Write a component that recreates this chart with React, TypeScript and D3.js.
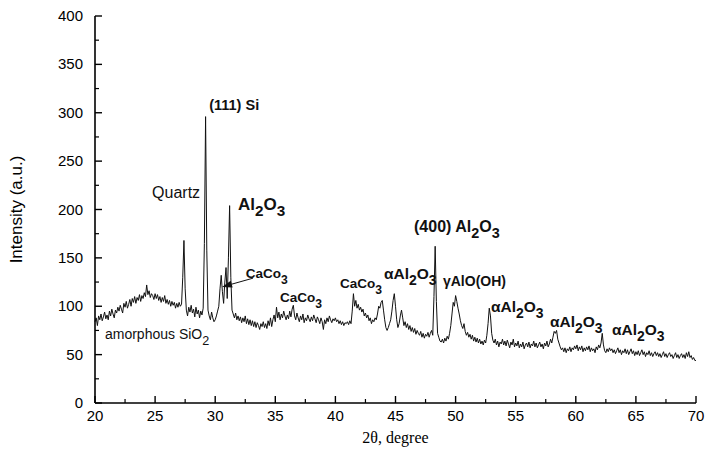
import React from "react";
import * as d3 from "d3";

const twoThetaStart = 20;
const twoThetaStep = 0.1;
const intensity = [
  84, 88, 80, 90, 86, 92, 85, 89, 94, 87, // 20
  91, 86, 95, 90, 97, 92, 88, 96, 93, 99, // 21
  95, 101, 97, 93, 103, 99, 105, 98, 102, 107, // 22
  100, 108, 104, 110, 103, 109, 106, 112, 105, 111, // 23
  108, 114, 110, 122, 112, 116, 109, 113, 111, 107, // 24
  113, 108, 112, 106, 110, 104, 109, 105, 111, 103, // 25
  107, 102, 106, 100, 105, 101, 104, 98, 103, 99, // 26
  104, 100, 102, 130, 168, 118, 96, 90, 99, 94, // 27
  101, 93, 97, 89, 99, 92, 96, 88, 95, 91, // 28
  98, 165, 296, 158, 96, 90, 86, 94, 88, 84, // 29
  86, 90, 95, 100, 118, 132, 115, 103, 125, 140, // 30
  108, 150, 204, 130, 96, 92, 88, 93, 86, 90, // 31
  85, 89, 83, 88, 84, 90, 82, 87, 81, 86, // 32
  80, 85, 79, 84, 78, 83, 80, 76, 82, 79, // 33
  84, 78, 82, 77, 85, 80, 88, 79, 86, 91, // 34
  84, 99, 88, 94, 86, 92, 88, 95, 90, 86, // 35
  91, 87, 95, 89, 97, 101, 90, 86, 93, 88, // 36
  84, 90, 86, 92, 83, 88, 85, 91, 87, 84, // 37
  89, 85, 91, 87, 83, 89, 86, 82, 88, 84, // 38
  76, 86, 82, 88, 84, 90, 86, 83, 87, 85, // 39
  88, 84, 86, 82, 85, 81, 84, 80, 83, 82, // 40
  84, 81, 85, 82, 95, 113, 100, 106, 98, 102, // 41
  96, 99, 94, 97, 90, 93, 88, 91, 85, 88, // 42
  82, 86, 84, 88, 86, 92, 100, 98, 104, 106, // 43
  96, 86, 78, 75, 78, 82, 86, 95, 106, 113, // 44
  100, 86, 78, 82, 90, 96, 88, 80, 84, 78, // 45
  82, 76, 80, 74, 78, 73, 77, 71, 75, 72, // 46
  70, 74, 68, 72, 67, 71, 69, 73, 68, 72, // 47
  75, 70, 110, 162, 105, 72, 68, 64, 63, 66, // 48
  62, 67, 64, 69, 66, 72, 80, 92, 104, 100, // 49
  111, 105, 98, 92, 85, 80, 77, 82, 74, 70, // 50
  73, 68, 71, 66, 70, 64, 68, 63, 67, 62, // 51
  66, 61, 64, 60, 65, 62, 70, 82, 98, 90, // 52
  72, 65, 62, 66, 60, 64, 58, 63, 61, 66, // 53
  60, 64, 59, 65, 61, 57, 63, 60, 66, 58, // 54
  62, 59, 64, 57, 61, 58, 63, 56, 60, 62, // 55
  58, 63, 57, 61, 59, 64, 58, 62, 57, 60, // 56
  63, 58, 61, 56, 62, 59, 64, 58, 61, 66, // 57
  62, 68, 74, 72, 75, 66, 62, 58, 55, 57, // 58
  53, 57, 52, 56, 54, 58, 53, 57, 55, 59, // 59
  56, 60, 54, 58, 55, 59, 53, 57, 54, 58, // 60
  55, 59, 53, 57, 54, 56, 52, 58, 55, 60, // 61
  57, 62, 72, 60, 54, 52, 56, 53, 57, 54, // 62
  56, 52, 55, 51, 54, 57, 52, 55, 50, 54, // 63
  52, 56, 51, 55, 50, 53, 56, 51, 54, 49, // 64
  53, 50, 54, 49, 52, 55, 50, 53, 48, 52, // 65
  50, 54, 49, 52, 48, 51, 53, 49, 52, 48, // 66
  51, 47, 50, 53, 48, 51, 47, 50, 52, 48, // 67
  50, 46, 49, 52, 47, 50, 46, 49, 51, 47, // 68
  50, 46, 52, 48, 53, 47, 49, 45, 47, 44, // 69
  44, // 70
];

const xTicks = [20, 25, 30, 35, 40, 45, 50, 55, 60, 65, 70];
const yTicks = [0, 50, 100, 150, 200, 250, 300, 350, 400];

// peak labels: [text, isSubscript] parts, anchored at (2theta, intensity)
const labels = [
  { at: [29.5, 303], size: 14.5, bold: true, parts: [["(111) Si", false]] },
  { at: [24.75, 212], size: 16, bold: false, parts: [["Quartz", false]] },
  { at: [31.9, 199], size: 17, bold: true, parts: [["Al", false], ["2", true], ["O", false], ["3", true]] },
  { at: [32.55, 129], size: 13.5, bold: true, parts: [["CaCo", false], ["3", true]] },
  { at: [35.39, 104], size: 13.5, bold: true, parts: [["CaCo", false], ["3", true]] },
  { at: [40.38, 119], size: 13.5, bold: true, parts: [["CaCo", false], ["3", true]] },
  { at: [44.04, 128], size: 15.5, bold: true, parts: [["αAl", false], ["2", true], ["O", false], ["3", true]] },
  { at: [46.54, 177], size: 16, bold: true, parts: [["(400) Al", false], ["2", true], ["O", false], ["3", true]] },
  { at: [48.95, 121], size: 14, bold: true, parts: [["γAlO(OH)", false]] },
  { at: [52.94, 94], size: 15.5, bold: true, parts: [["αAl", false], ["2", true], ["O", false], ["3", true]] },
  { at: [57.85, 78.5], size: 15.5, bold: true, parts: [["αAl", false], ["2", true], ["O", false], ["3", true]] },
  { at: [63.01, 70], size: 15.5, bold: true, parts: [["αAl", false], ["2", true], ["O", false], ["3", true]] },
  { at: [20.83, 66], size: 14, bold: false, parts: [["amorphous SiO", false], ["2", true]] },
];

// arrow from the CaCo3 label to the shoulder peak
const arrowFrom = [33.14, 129];
const arrowTo = [30.57, 120];

export default function App() {
  const width = 708;
  const height = 461;
  const margin = { top: 16, right: 12, bottom: 58, left: 95 };

  const x = d3.scaleLinear().domain([20, 70]).range([margin.left, width - margin.right]);
  const y = d3.scaleLinear().domain([0, 400]).range([height - margin.bottom, margin.top]);

  const points = intensity.map((v, i) => [twoThetaStart + i * twoThetaStep, v]);
  const line = d3
    .line()
    .x((d) => x(d[0]))
    .y((d) => y(d[1]));

  const xMinor = d3.range(22.5, 70, 5);
  const yMinor = d3.range(25, 400, 50);
  const font = "'Liberation Sans', Arial, sans-serif";
  const x0 = x(20);
  const y0 = y(0);

  const ax = x(arrowFrom[0]);
  const ay = y(arrowFrom[1]);
  const bx = x(arrowTo[0]);
  const by = y(arrowTo[1]);
  const ang = Math.atan2(ay - by, ax - bx);
  const headLen = 10;
  const headW = 3.5;
  const hx = bx + headLen * Math.cos(ang);
  const hy = by + headLen * Math.sin(ang);
  const head = [
    [bx, by],
    [hx - headW * Math.sin(ang), hy + headW * Math.cos(ang)],
    [hx + headW * Math.sin(ang), hy - headW * Math.cos(ang)],
  ];

  return (
    <svg
      width={width}
      height={height}
      style={{ position: "absolute", left: 0, top: 0, background: "#fff" }}
    >
      <path d={line(points)} fill="none" stroke="#111" strokeWidth={1} strokeLinejoin="round" />

      {/* axes */}
      <line x1={x0} x2={x(70)} y1={y0} y2={y0} stroke="#000" strokeWidth={1.6} />
      <line x1={x0} x2={x0} y1={y0} y2={y(400)} stroke="#000" strokeWidth={1.6} />
      {xTicks.map((t) => (
        <g key={"xt" + t}>
          <line x1={x(t)} x2={x(t)} y1={y0} y2={y0 - 7} stroke="#000" strokeWidth={1.4} />
          <text x={x(t)} y={y0 + 18} textAnchor="middle" fontFamily={font} fontSize={15}>
            {t}
          </text>
        </g>
      ))}
      {xMinor.map((t) => (
        <line key={"xm" + t} x1={x(t)} x2={x(t)} y1={y0} y2={y0 - 4} stroke="#000" strokeWidth={1.2} />
      ))}
      {yTicks.map((t) => (
        <g key={"yt" + t}>
          <line x1={x0} x2={x0 + 7} y1={y(t)} y2={y(t)} stroke="#000" strokeWidth={1.4} />
          <text x={x0 - 12} y={y(t) + 5} textAnchor="end" fontFamily={font} fontSize={15}>
            {t}
          </text>
        </g>
      ))}
      {yMinor.map((t) => (
        <line key={"ym" + t} x1={x0} x2={x0 + 4} y1={y(t)} y2={y(t)} stroke="#000" strokeWidth={1.2} />
      ))}

      <text
        transform={`translate(${22},${(margin.top + y0) / 2}) rotate(-90)`}
        textAnchor="middle"
        fontFamily={font}
        fontSize={17}
      >
        Intensity (a.u.)
      </text>
      <text
        x={(x0 + x(70)) / 2}
        y={443}
        textAnchor="middle"
        fontFamily="'Liberation Serif', 'Times New Roman', serif"
        fontSize={16}
      >
        2θ, degree
      </text>

      {labels.map((l, i) => (
        <text
          key={"lb" + i}
          x={x(l.at[0])}
          y={y(l.at[1])}
          fontFamily={font}
          fontSize={l.size}
          fontWeight={l.bold ? "bold" : "normal"}
          fill="#111"
        >
          {l.parts.map((p, j) => {
            const prevSub = j > 0 && l.parts[j - 1][1];
            const isSub = p[1];
            const dy = isSub ? 6 : prevSub ? -6 : 0;
            return (
              <tspan key={j} dy={dy} fontSize={isSub ? l.size * 0.9 : l.size}>
                {p[0]}
              </tspan>
            );
          })}
        </text>
      ))}

      <line x1={ax} y1={ay} x2={hx} y2={hy} stroke="#111" strokeWidth={1} />
      <polygon points={head.map((p) => p.join(",")).join(" ")} fill="#111" />
    </svg>
  );
}
